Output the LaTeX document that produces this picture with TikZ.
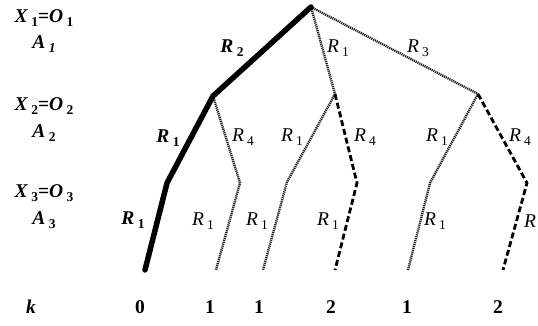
\documentclass[tikz,border=0pt]{standalone}
\usepackage{fontspec}
\setmainfont{Liberation Serif}
\usetikzlibrary{positioning}

\newcommand{\lsub}[1]{\raisebox{-0.45ex}{\fontsize{13.5}{14}\selectfont #1}}
\newcommand{\bR}[1]{\textbf{\textit{R}}\,\lsub{\bfseries #1}}
\newcommand{\rR}[1]{\textit{R}\,\lsub{#1}}
\newcommand{\lvl}[1]{\textbf{\textit{X}}\,\lsub{\bfseries #1}\textbf{=}\textbf{\textit{O}}\,\lsub{\bfseries #1}}

\begin{document}
\begin{tikzpicture}[
      x=1pt,y=-1pt,
      font=\fontsize{19.5}{22}\selectfont,
      best/.style={line width=5.5pt,line cap=round,line join=round},
      other/.style={draw=black!85,line width=2.4pt,dash pattern=on 1.2pt off 0.8pt},
      risky/.style={line width=2.8pt,dash pattern=on 6pt off 3pt},
      lab/.style={inner sep=0pt,anchor=center}
    ]
      \useasboundingbox (0,0) rectangle (538,326);
      % tree points
      \coordinate (n0) at (311,7);
      \coordinate (a) at (213,96);
      \coordinate (b) at (335,94);
      \coordinate (c) at (478,94);
      \coordinate (aa) at (167,183);
      \coordinate (ab) at (240,183);
      \coordinate (ba) at (287,182);
      \coordinate (bb) at (357,183);
      \coordinate (ca) at (430,183);
      \coordinate (cb) at (527,183);
      \coordinate (aaa) at (145,270);
      \coordinate (aba) at (216,270);
      \coordinate (baa) at (263,270);
      \coordinate (bba) at (335,270);
      \coordinate (caa) at (408,270);
      \coordinate (cba) at (503,270);
      % branches
      \draw[other] (n0) -- (b);
      \draw[other] (n0) -- (c);
      \draw[other] (a) -- (ab) -- (aba);
      \draw[other] (b) -- (ba) -- (baa);
      \draw[risky] (b) -- (bb) -- (bba);
      \draw[other] (c) -- (ca) -- (caa);
      \draw[risky] (c) -- (cb) -- (cba);
      \draw[best] (n0) -- (a) -- (aa) -- (aaa);
      % stage labels
      \node[lab] (x1) at (44,18) {\lvl{1}};
      \node[lab] (a1) at (44,44) {\textbf{\textit{A}}\,\lsub{\bfseries\itshape 1}};
      \node[lab] (x2) at (44,106) {\lvl{2}};
      \node[lab] (a2) at (44,133) {\textbf{\textit{A}}\,\lsub{\bfseries 2}};
      \node[lab] (x3) at (44,193) {\lvl{3}};
      \node[lab] (a3) at (44,220) {\textbf{\textit{A}}\,\lsub{\bfseries 3}};
      % branch labels
      \node[lab] (l1) at (232,48) {\bR{2}};
      \node[lab] (l2) at (338,48) {\rR{1}};
      \node[lab] (l3) at (418,48) {\rR{3}};
      \node[lab] (l4) at (168,138) {\bR{1}};
      \node[lab] (l5) at (243,137) {\rR{4}};
      \node[lab] (l6) at (292,137) {\rR{1}};
      \node[lab] (l7) at (365,137) {\rR{4}};
      \node[lab] (l8) at (437,137) {\rR{1}};
      \node[lab] (l9) at (520,137) {\rR{4}};
      \node[lab] (l10) at (133,220) {\bR{1}};
      \node[lab] (l11) at (203,221) {\rR{1}};
      \node[lab] (l12) at (257,221) {\rR{1}};
      \node[lab] (l13) at (328,221) {\rR{1}};
      \node[lab] (l14) at (435,221) {\rR{1}};
      \node[lab] (l15) at (530,221) {\textit{R}};
      % k row
      \node[lab] (k) at (31,307) {\textbf{\textit{k}}};
      \node[lab] (k1) at (140,307) {\textbf{0}};
      \node[lab] (k2) at (210,307) {\textbf{1}};
      \node[lab] (k3) at (259,307) {\textbf{1}};
      \node[lab] (k4) at (331,307) {\textbf{2}};
      \node[lab] (k5) at (407,307) {\textbf{1}};
      \node[lab] (k6) at (498,307) {\textbf{2}};
    \end{tikzpicture}
\end{document}
